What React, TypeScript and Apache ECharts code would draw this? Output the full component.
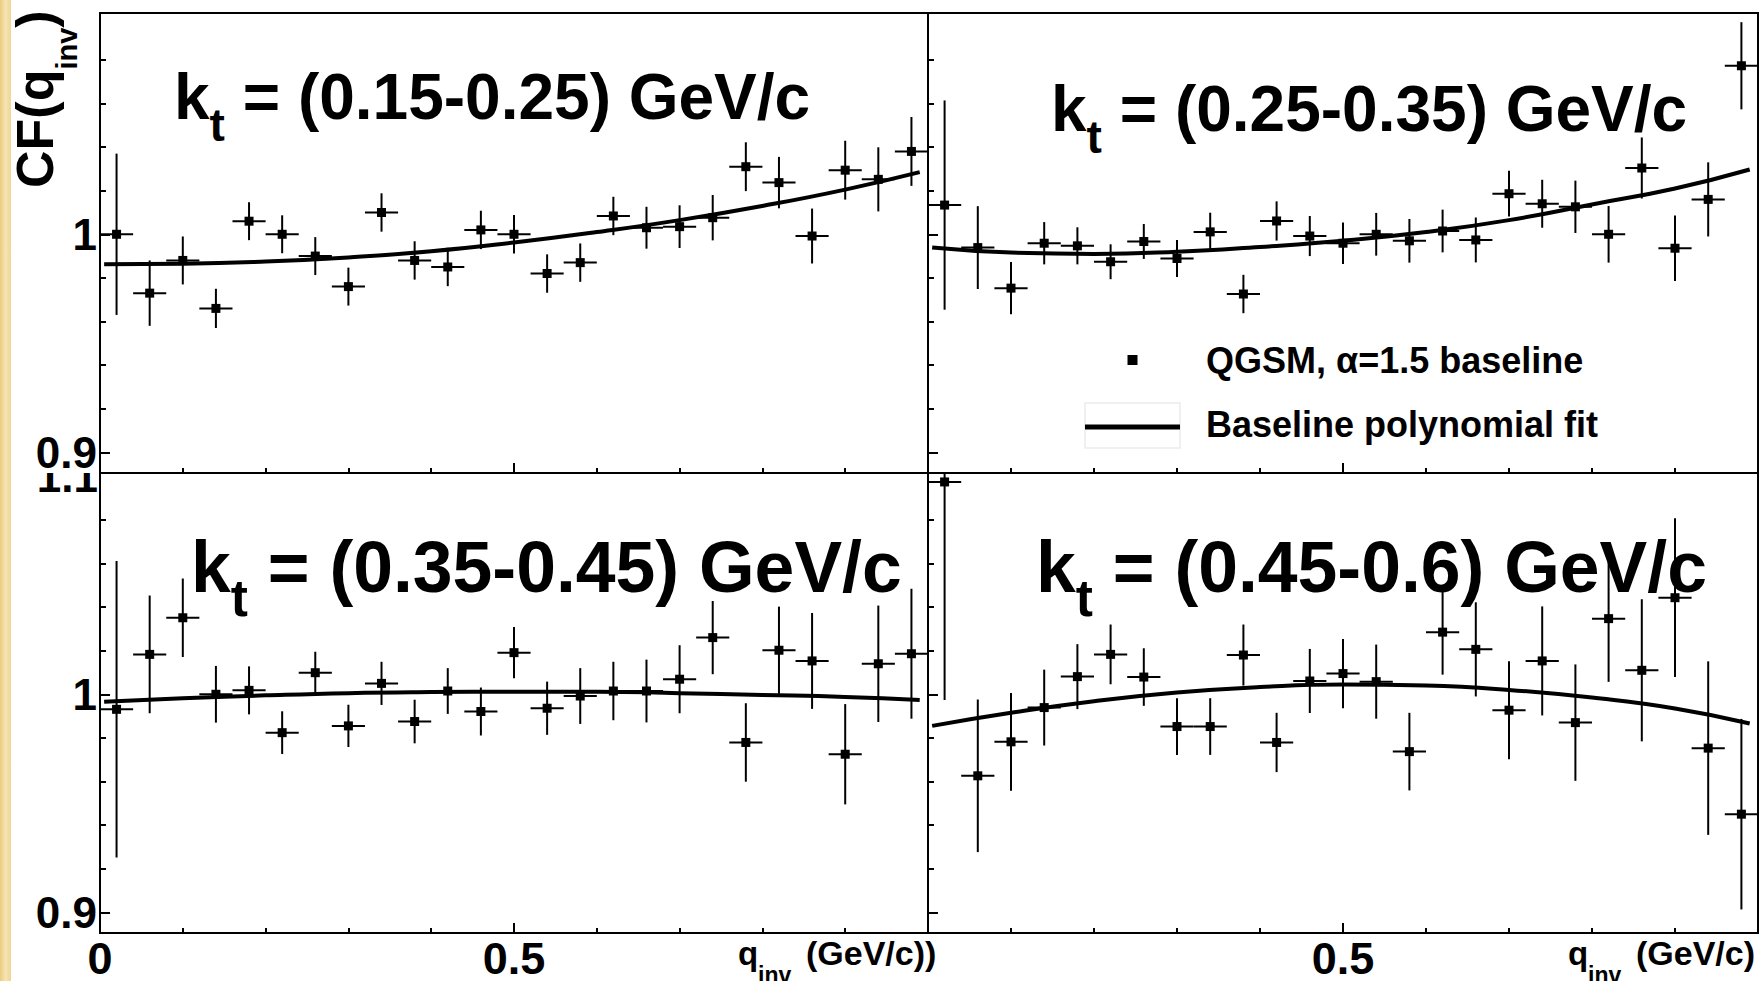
import React, { useEffect, useRef } from "react";
import * as echarts from "echarts";

// ---------- data ----------
const qinv = [0.02, 0.06, 0.1, 0.14, 0.18, 0.22, 0.26, 0.3, 0.34, 0.38, 0.42, 0.46, 0.5, 0.54, 0.58, 0.62, 0.66, 0.7, 0.74, 0.78, 0.82, 0.86, 0.9, 0.94, 0.98];

const cfKt1 = [1.0, 0.973, 0.988, 0.966, 1.006, 1.0, 0.99, 0.976, 1.01, 0.988, 0.985, 1.002, 1.0, 0.982, 0.987, 1.0084, 1.003, 1.0035, 1.0076, 1.031, 1.0237, 0.9992, 1.0294, 1.0252, 1.038];
const errKt1 = [0.037, 0.015, 0.011, 0.009, 0.0087, 0.0087, 0.0087, 0.0087, 0.0088, 0.0088, 0.0088, 0.0088, 0.0088, 0.0088, 0.0088, 0.0088, 0.0096, 0.0098, 0.0104, 0.0112, 0.0118, 0.0126, 0.0135, 0.0147, 0.0158];

const cfKt2 = [1.0134, 0.9939, 0.9753, 0.9959, 0.9947, 0.9874, 0.9967, 0.9889, 1.0011, 0.9726, 1.0061, 0.9992, 0.9959, 1.0, 0.997, 1.0015, 0.9974, 1.0186, 1.014, 1.0126, 1.0, 1.0304, 0.9936, 1.016, 1.0773];
const errKt2 = [0.048, 0.019, 0.012, 0.0097, 0.0085, 0.008, 0.008, 0.0085, 0.0088, 0.0088, 0.009, 0.0092, 0.0095, 0.0098, 0.01, 0.0098, 0.0103, 0.0105, 0.011, 0.012, 0.013, 0.014, 0.015, 0.017, 0.02];

const cfKt3 = [0.9931, 1.0183, 1.0351, 1.0, 1.0018, 0.9824, 1.0099, 0.9855, 1.005, 0.9875, 1.0015, 0.9921, 1.0191, 0.9936, 0.9992, 1.0015, 1.0015, 1.0069, 1.026, 0.9779, 1.0202, 1.0153, 0.9725, 1.014, 1.0186];
const errKt3 = [0.068, 0.027, 0.018, 0.013, 0.011, 0.0098, 0.0096, 0.0097, 0.0099, 0.01, 0.0105, 0.011, 0.0118, 0.0122, 0.0128, 0.0134, 0.0144, 0.0156, 0.0168, 0.018, 0.02, 0.022, 0.023, 0.0267, 0.0298];

const cfKt4 = [1.0974, 0.9626, 0.9782, 0.9939, 1.0081, 1.0183, 1.0079, 0.9852, 0.9852, 1.018, 0.9779, 1.0061, 1.0095, 1.0058, 0.9737, 1.0285, 1.0206, 0.9927, 1.0153, 0.987, 1.0347, 1.011, 1.0443, 0.9753, 0.945];
const errKt4 = [0.1, 0.035, 0.0224, 0.0174, 0.0149, 0.0137, 0.0132, 0.013, 0.013, 0.014, 0.0136, 0.0147, 0.0159, 0.017, 0.0178, 0.0195, 0.0216, 0.0225, 0.025, 0.0267, 0.029, 0.0326, 0.0364, 0.0398, 0.0437];

const fitQ = [0.005, 0.1, 0.2, 0.3, 0.4, 0.5, 0.6, 0.7, 0.8, 0.9, 0.99];
const fitKt1 = [0.9863, 0.9865, 0.9875, 0.9894, 0.9922, 0.9962, 1.001, 1.0065, 1.013, 1.0205, 1.0285];
const fitKt2 = [0.9939, 0.9916, 0.991, 0.992, 0.9942, 0.997, 1.001, 1.0065, 1.0137, 1.021, 1.0297];
const fitKt3 = [0.9966, 0.9982, 0.9995, 1.0005, 1.001, 1.0012, 1.0012, 1.0005, 0.9997, 0.9988, 0.9974];
const fitKt4 = [0.9855, 0.9915, 0.9968, 1.0008, 1.0033, 1.0045, 1.004, 1.002, 0.9985, 0.9935, 0.9866];

const ktRanges = [" = (0.15-0.25) GeV/c", " = (0.25-0.35) GeV/c", " = (0.35-0.45) GeV/c", " = (0.45-0.6) GeV/c"];

const yMajorTicks = [0.9, 1.0];
const yMinorTicks = [0.92, 0.94, 0.96, 0.98, 1.02, 1.04, 1.06, 1.08];
const xMajorTicks = [0, 0.5, 1];
const xMinorTicks = [0.1, 0.2, 0.3, 0.4, 0.6, 0.7, 0.8, 0.9];

const NAME_PTS = "QGSM, α=1.5 baseline";
const NAME_FIT = "Baseline polynomial fit";

// ---------- layout ----------
const FONT = "'Liberation Sans', Arial, Helvetica, sans-serif";
const Y_MIN = 0.8905;
const Y_MAX = 1.1015;
const HALF_BIN = 0.02;
const grids = [
  { left: 100, top: 13, width: 828, height: 460 },
  { left: 928, top: 13, width: 830, height: 460 },
  { left: 100, top: 473, width: 828, height: 460 },
  { left: 928, top: 473, width: 830, height: 460 },
];
const titlePos = [
  { x: 174, y: 97, f: 64 },
  { x: 1051, y: 109, f: 64 },
  { x: 191, y: 567, f: 71.5 },
  { x: 1036, y: 567, f: 71.5 },
];

let ctx: CanvasRenderingContext2D | null = null;
function measure(text: string, size: number) {
  if (!ctx) ctx = document.createElement("canvas").getContext("2d");
  ctx!.font = `bold ${size}px ${FONT}`;
  return ctx!.measureText(text).width;
}

function txt(x: number, y: number, text: string, size: number, extra: any = {}) {
  return {
    type: "text",
    x,
    y,
    z: 10,
    ...extra,
    style: {
      text,
      fill: "#000",
      fontSize: size,
      fontWeight: "bold",
      fontFamily: FONT,
      textAlign: "left",
      textVerticalAlign: "middle",
    },
  };
}

function ktTitle(x: number, yc: number, f: number, rest: string) {
  const fs = 0.72 * f;
  const wk = measure("k", f);
  const wt = measure("t", fs);
  return [txt(x, yc, "k", f), txt(x + wk, yc + 0.44 * f, "t", fs), txt(x + wk + wt, yc, rest, f)];
}

function buildOption() {
  const cfs = [cfKt1, cfKt2, cfKt3, cfKt4];
  const errs = [errKt1, errKt2, errKt3, errKt4];
  const fits = [fitKt1, fitKt2, fitKt3, fitKt4];

  const xAxis: any[] = [];
  const yAxis: any[] = [];
  const series: any[] = [];
  for (let i = 0; i < 4; i++) {
    const isLeft = i % 2 === 0;
    const isBottom = i >= 2;
    xAxis.push({
      type: "value",
      gridIndex: i,
      min: 0,
      max: 1,
      position: "bottom",
      axisLine: { show: true, onZero: false, lineStyle: { color: "#000", width: 2 } },
      axisTick: { show: true, inside: true, length: 10, customValues: xMajorTicks, lineStyle: { color: "#000", width: 2 } },
      axisLabel: {
        show: isBottom,
        customValues: isLeft ? [0, 0.5] : [0.5],
        fontSize: 45,
        lineHeight: 40,
        fontWeight: "bold",
        fontFamily: FONT,
        color: "#000",
        margin: 5,
      },
      splitLine: { show: false },
    });
    xAxis.push({
      type: "value",
      gridIndex: i,
      min: 0,
      max: 1,
      position: "bottom",
      axisLine: { show: false, onZero: false },
      axisTick: { show: true, inside: true, length: 5, customValues: xMinorTicks, lineStyle: { color: "#000", width: 2 } },
      axisLabel: { show: false },
      splitLine: { show: false },
    });
    yAxis.push({
      type: "value",
      gridIndex: i,
      min: Y_MIN,
      max: Y_MAX,
      position: "left",
      z: i === 0 ? 6 : 0,
      axisLine: { show: true, onZero: false, lineStyle: { color: "#000", width: 2 } },
      axisTick: { show: true, inside: true, length: 10, customValues: yMajorTicks, lineStyle: { color: "#000", width: 2 } },
      axisLabel: {
        show: isLeft,
        customValues: yMajorTicks,
        formatter: (v: number) => (Math.abs(v - 1) < 1e-9 ? "1" : String(v)),
        fontSize: 44,
        fontWeight: "bold",
        fontFamily: FONT,
        color: "#000",
        margin: 3,
      },
      splitLine: { show: false },
    });
    yAxis.push({
      type: "value",
      gridIndex: i,
      min: Y_MIN,
      max: Y_MAX,
      position: "left",
      axisLine: { show: false, onZero: false },
      axisTick: { show: true, inside: true, length: 6, customValues: yMinorTicks, lineStyle: { color: "#000", width: 2 } },
      axisLabel: { show: false },
      splitLine: { show: false },
    });

    const pts = qinv.map((q, k) => [q, cfs[i][k], errs[i][k]]);
    series.push({
      name: NAME_PTS,
      type: "custom",
      xAxisIndex: 2 * i,
      yAxisIndex: 2 * i,
      clip: true,
      itemStyle: { color: "#000" },
      data: pts,
      renderItem: (params: any, api: any) => {
        const x = api.value(0);
        const y = api.value(1);
        const e = api.value(2);
        const c = api.coord([x, y]);
        const top = api.coord([x, y + e]);
        const bot = api.coord([x, y - e]);
        const l = api.coord([x - HALF_BIN, y]);
        const r = api.coord([x + HALF_BIN, y]);
        return {
          type: "group",
          children: [
            { type: "line", shape: { x1: c[0], y1: top[1], x2: c[0], y2: bot[1] }, style: { stroke: "#000", lineWidth: 2 } },
            { type: "line", shape: { x1: l[0], y1: c[1], x2: r[0], y2: c[1] }, style: { stroke: "#000", lineWidth: 2 } },
            { type: "rect", shape: { x: c[0] - 4.5, y: c[1] - 4.5, width: 9, height: 9 }, style: { fill: "#000" } },
          ],
        };
      },
    });
    series.push({
      name: NAME_FIT,
      type: "line",
      xAxisIndex: 2 * i,
      yAxisIndex: 2 * i,
      data: fitQ.map((q, k) => [q, fits[i][k]]),
      smooth: true,
      showSymbol: false,
      symbol: "none",
      clip: true,
      itemStyle: { color: "#000" },
      lineStyle: { color: "#000", width: 4 },
      z: 3,
    });
  }

  const graphic: any[] = [];
  // beige strip at the left edge
  graphic.push({
    type: "rect",
    shape: { x: 0, y: 0, width: 11, height: 981 },
    z: 0,
    style: {
      fill: new echarts.graphic.LinearGradient(0, 0, 1, 0, [
        { offset: 0, color: "#eacb80" },
        { offset: 0.5, color: "#f6e4b2" },
        { offset: 1, color: "#f0d596" },
      ]),
    },
  });
  // panel titles
  for (let i = 0; i < 4; i++) {
    graphic.push(...ktTitle(titlePos[i].x, titlePos[i].y, titlePos[i].f, ktRanges[i]));
  }
  // y title CF(q_inv) rotated
  const yF = 52;
  const ySub = 29;
  const yBase = 188;
  const w1 = measure("CF(q", yF);
  const w2 = measure("inv", ySub);
  graphic.push(txt(35, yBase, "CF(q", yF, { rotation: Math.PI / 2 }));
  graphic.push(txt(67, yBase - w1, "inv", ySub, { rotation: Math.PI / 2 }));
  graphic.push(txt(35, yBase - w1 - w2, ")", yF, { rotation: Math.PI / 2 }));
  // x titles
  const xTitles = [
    { x: 738, paren: "(GeV/c))" },
    { x: 1568, paren: "(GeV/c)" },
  ];
  for (const t of xTitles) {
    graphic.push(txt(t.x, 953, "q", 33));
    graphic.push(txt(t.x + 20, 975, "inv", 23));
    graphic.push(txt(t.x + 68, 953, t.paren, 34));
  }
  // partly hidden "1.1" label of the lower-left pad
  graphic.push({
    type: "text",
    x: 98,
    y: 476,
    z: 1,
    style: { text: "1.1", fill: "#000", fontSize: 44, fontWeight: "bold", fontFamily: FONT, textAlign: "right", textVerticalAlign: "middle" },
  });
  graphic.push({ type: "rect", shape: { x: 20, y: 440, width: 79, height: 33 }, z: 2, style: { fill: "#fff" } });
  // faint box around the legend line sample and the line sample itself
  graphic.push({
    type: "rect",
    shape: { x: 1085, y: 403, width: 95, height: 45 },
    z: 1,
    style: { fill: "none", stroke: "#ebebeb", lineWidth: 1.5 },
  });
  graphic.push({
    type: "line",
    shape: { x1: 1085, y1: 427, x2: 1180, y2: 427 },
    z: 5,
    style: { stroke: "#000", lineWidth: 5 },
  });

  return {
    animation: false,
    backgroundColor: "#fff",
    grid: grids.map((g) => ({ ...g, show: true, borderColor: "#000", borderWidth: 2, backgroundColor: "transparent", containLabel: false })),
    xAxis,
    yAxis,
    legend: {
      show: true,
      left: 1080,
      top: 337,
      orient: "vertical",
      itemWidth: 95,
      itemHeight: 10,
      itemGap: 28,
      selectedMode: false,
      textStyle: { fontFamily: FONT, fontSize: 36, fontWeight: "bold", color: "#000", padding: [0, 0, 0, 21] },
      data: [
        { name: NAME_PTS, icon: "path://M0 0H10V10H0Z", itemStyle: { color: "#000" } },
        { name: NAME_FIT, icon: "none" },
      ],
    },
    series,
    graphic,
  };
}

export default function App() {
  const ref = useRef<HTMLDivElement>(null);
  useEffect(() => {
    document.body.style.margin = "0";
    const chart = echarts.init(ref.current!, null, { renderer: "svg" });
    chart.setOption(buildOption() as any);
    return () => chart.dispose();
  }, []);
  return <div ref={ref} style={{ width: 1762, height: 981 }} />;
}
